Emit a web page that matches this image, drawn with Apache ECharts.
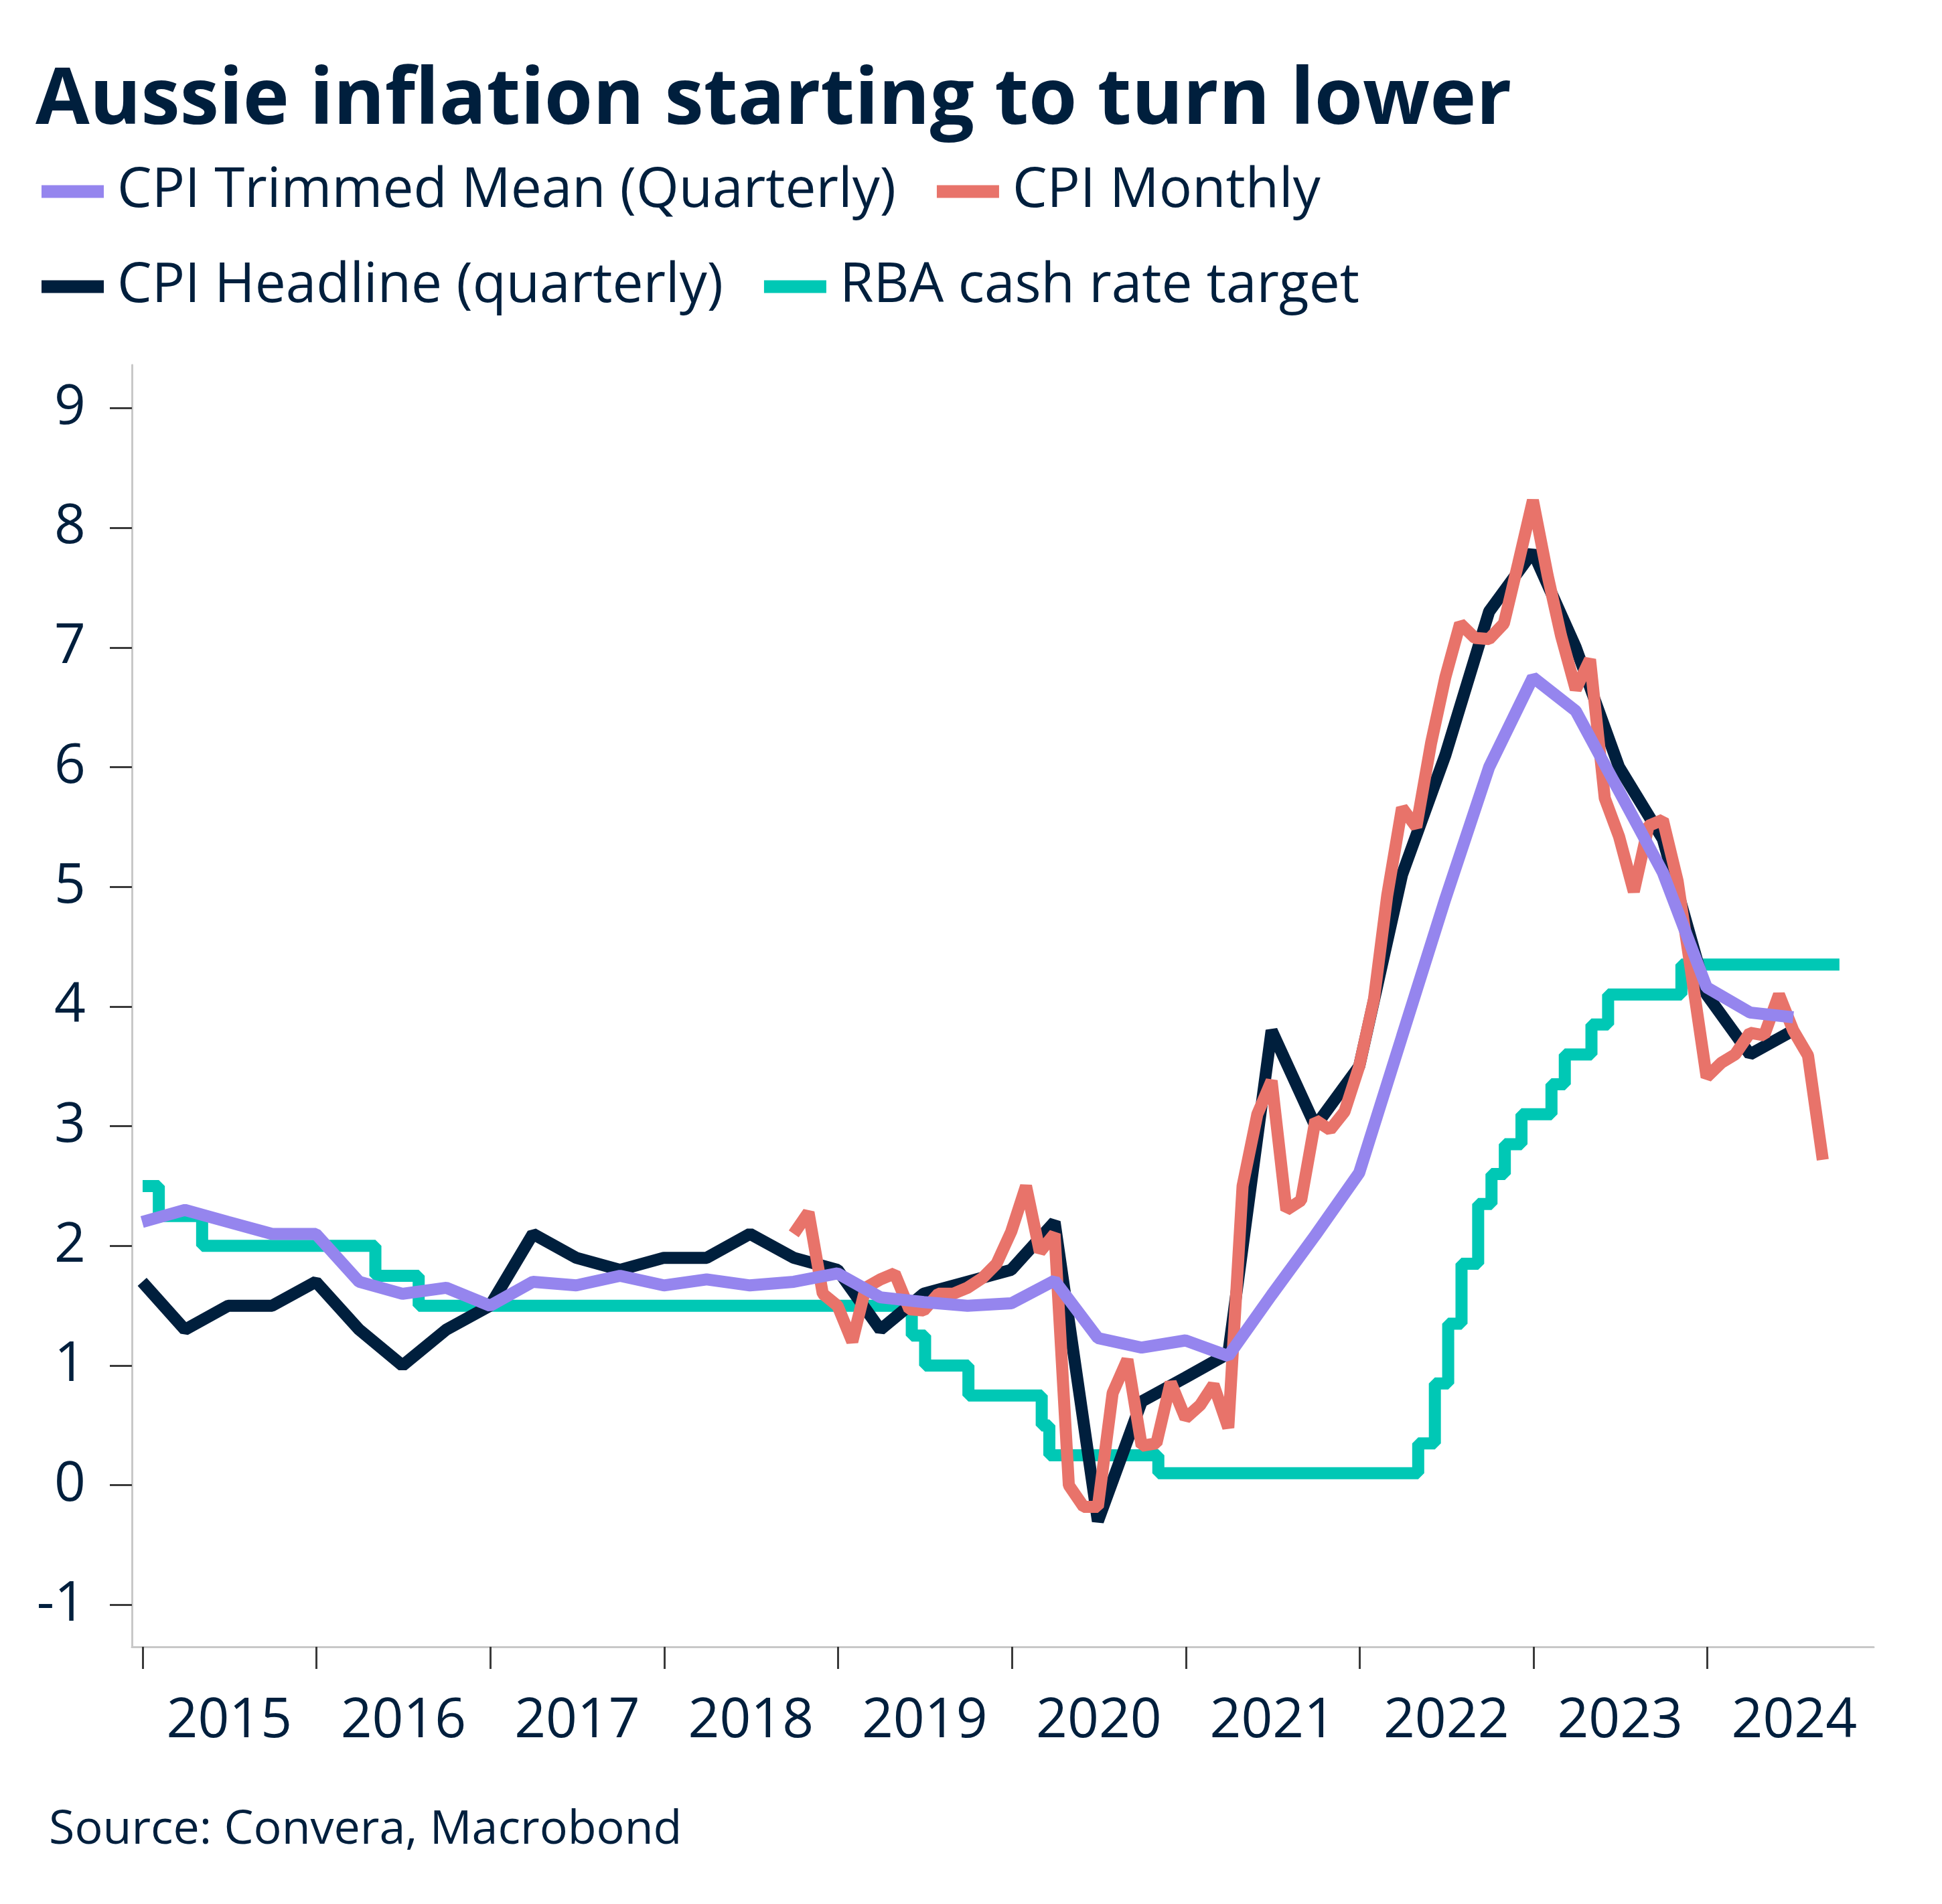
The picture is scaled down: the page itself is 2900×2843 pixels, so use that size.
<!DOCTYPE html>
<html lang="en">
<head>
<meta charset="UTF-8">
<title>Aussie inflation starting to turn lower</title>
<script src="https://cdn.jsdelivr.net/npm/echarts@6/dist/echarts.min.js"></script>
<style>
  html, body { margin: 0; padding: 0; background: #fff; }
  #chart { width: 2900px; height: 2843px; }
</style>
</head>
<body>
<div id="chart"></div>
<script>
// quarterly CPI, year-ended %, plotted at quarter end
var quarters = [
  '2014-12-31',
  '2015-03-31', '2015-06-30', '2015-09-30', '2015-12-31',
  '2016-03-31', '2016-06-30', '2016-09-30', '2016-12-31',
  '2017-03-31', '2017-06-30', '2017-09-30', '2017-12-31',
  '2018-03-31', '2018-06-30', '2018-09-30', '2018-12-31',
  '2019-03-31', '2019-06-30', '2019-09-30', '2019-12-31',
  '2020-03-31', '2020-06-30', '2020-09-30', '2020-12-31',
  '2021-03-31', '2021-06-30', '2021-09-30', '2021-12-31',
  '2022-03-31', '2022-06-30', '2022-09-30', '2022-12-31',
  '2023-03-31', '2023-06-30', '2023-09-30', '2023-12-31',
  '2024-03-31', '2024-06-30'
];
var headline = [
  1.7,
  1.3, 1.5, 1.5, 1.7,
  1.3, 1.0, 1.3, 1.5,
  2.1, 1.9, 1.8, 1.9,
  1.9, 2.1, 1.9, 1.8,
  1.3, 1.6, 1.7, 1.8,
  2.2, -0.3, 0.7, 0.9,
  1.1, 3.8, 3.0, 3.5,
  5.1, 6.1, 7.3, 7.8,
  7.0, 6.0, 5.4, 4.1,
  3.6, 3.8
];
var trimmedMean = [
  2.2,
  2.3, 2.2, 2.1, 2.1,
  1.7, 1.6, 1.65, 1.5,
  1.7, 1.67, 1.75, 1.67,
  1.72, 1.67, 1.7, 1.77,
  1.57, 1.53, 1.5, 1.52,
  1.71, 1.23, 1.15, 1.21,
  1.08, 1.59, 2.09, 2.61,
  3.75, 4.9, 6.0, 6.75,
  6.47, 5.8, 5.12, 4.16,
  3.95, 3.91
];

// monthly CPI indicator, Sep 2018 .. Aug 2024
var monthlyStart = [2018, 9];
var monthly = [
  2.1, 2.28, 1.6, 1.5,
  1.2, 1.65, 1.72, 1.77, 1.47, 1.46, 1.6, 1.6, 1.65, 1.73, 1.85, 2.12,
  2.5, 1.95, 2.1, 0.0, -0.18, -0.18, 0.77, 1.05, 0.33, 0.35, 0.86, 0.56,
  0.67, 0.84, 0.48, 2.5, 3.1, 3.38, 2.3, 2.38, 3.05, 2.97, 3.12, 3.5,
  4.06, 4.93, 5.66, 5.5, 6.2, 6.75, 7.2, 7.08, 7.07, 7.2, 7.7, 8.23,
  7.6, 7.1, 6.65, 6.9, 5.74, 5.42, 4.96, 5.51, 5.56, 5.05, 4.25, 3.41,
  3.53, 3.6, 3.78, 3.76, 4.1, 3.8, 3.59, 2.72
];

// RBA cash rate target: date from which each rate applies
var rbaDates = [
  '2015-01-01', '2015-02-04', '2015-05-06', '2016-05-04', '2016-08-03',
  '2019-06-05', '2019-07-03', '2019-10-02', '2020-03-04', '2020-03-20',
  '2020-11-04', '2022-05-04', '2022-06-08', '2022-07-06', '2022-08-03',
  '2022-09-07', '2022-10-05', '2022-11-02', '2022-12-07', '2023-02-08',
  '2023-03-08', '2023-05-03', '2023-06-07', '2023-11-08', '2024-10-05'
];
var rbaRates = [
  2.5, 2.25, 2.0, 1.75, 1.5,
  1.25, 1.0, 0.75, 0.5, 0.25,
  0.1, 0.35, 0.85, 1.35, 1.85,
  2.35, 2.6, 2.85, 3.1, 3.35,
  3.6, 3.85, 4.1, 4.35, 4.35
];

var years = [2015, 2016, 2017, 2018, 2019, 2020, 2021, 2022, 2023, 2024];
var yTicks = [-1, 0, 1, 2, 3, 4, 5, 6, 7, 8, 9];

var navy = '#001f3d';
var font = 'Open Sans';

function day(s) {
  var p = s.split('-');
  return new Date(+p[0], +p[1] - 1, +p[2]).getTime();
}

var headlineData = quarters.map(function (d, i) { return [day(d), headline[i]]; });
var trimmedData = quarters.map(function (d, i) { return [day(d), trimmedMean[i]]; });
var monthlyData = monthly.map(function (v, i) {
  // last day of the month
  return [new Date(monthlyStart[0], monthlyStart[1] + i, 0).getTime(), v];
});
var rbaData = rbaDates.map(function (d, i) { return [day(d), rbaRates[i]]; });

// x axis is a plain value axis in milliseconds: ticks on 1 Jan, year labels mid-year
var yearStarts = years.map(function (y) { return new Date(y, 0, 1).getTime(); });
var yearMids = years.map(function (y) { return new Date(y, 6, 2).getTime(); });

var legendText = { fontFamily: font, fontSize: 82, color: navy, lineHeight: 82, padding: [18, 0, 0, 15] };

var chart = echarts.init(document.getElementById('chart'), null, { renderer: 'canvas' });

chart.setOption({
  animation: false,
  backgroundColor: '#fff',
  textStyle: { fontFamily: font, color: navy },
  title: [{
    text: 'Aussie inflation starting to turn lower',
    left: 48,
    top: 88,
    textStyle: { fontFamily: font, fontWeight: 'bold', fontSize: 117, color: navy }
  }, {
    text: 'Source: Convera, Macrobond',
    left: 68,
    top: 2693,
    textStyle: { fontFamily: font, fontWeight: 'normal', fontSize: 70, color: navy }
  }],
  legend: [{
    data: ['CPI Trimmed Mean (Quarterly)', 'CPI Monthly'],
    left: 57,
    top: 231,
    icon: 'rect',
    itemWidth: 93,
    itemHeight: 19,
    itemGap: 61,
    selectedMode: false,
    textStyle: legendText
  }, {
    data: ['CPI Headline (quarterly)', 'RBA cash rate target'],
    left: 57,
    top: 373,
    icon: 'rect',
    itemWidth: 93,
    itemHeight: 19,
    itemGap: 61,
    selectedMode: false,
    textStyle: legendText
  }],
  grid: {
    left: 197,
    right: 102,
    top: 545,
    bottom: 384,
    containLabel: false,
    outerBoundsMode: 'none'
  },
  xAxis: {
    type: 'value',
    min: new Date(2014, 11, 9, 12).getTime(),
    max: new Date(2024, 11, 16).getTime(),
    axisLine: { show: true, onZero: false, lineStyle: { color: '#c8c8c8', width: 3 } },
    axisTick: { show: true, length: 33, customValues: yearStarts, lineStyle: { color: '#3a3a3a', width: 3 } },
    axisLabel: {
      customValues: yearMids,
      margin: 71,
      fontFamily: font,
      fontSize: 82,
      color: navy,
      formatter: function (v) { return String(new Date(v).getFullYear()); }
    },
    splitLine: { show: false }
  },
  yAxis: {
    type: 'value',
    min: -1.35,
    max: 9.36,
    axisLine: { show: true, lineStyle: { color: '#c8c8c8', width: 3 } },
    axisTick: { show: true, length: 33, customValues: yTicks, lineStyle: { color: '#3a3a3a', width: 3 } },
    axisLabel: {
      customValues: yTicks,
      margin: 69,
      fontFamily: font,
      fontSize: 82,
      color: navy
    },
    splitLine: { show: false }
  },
  series: [{
    name: 'RBA cash rate target',
    type: 'line',
    step: 'end',
    data: rbaData,
    color: '#00c8b5',
    symbol: 'none',
    lineStyle: { width: 18 },
    z: 2
  }, {
    name: 'CPI Headline (quarterly)',
    type: 'line',
    data: headlineData,
    color: navy,
    symbol: 'none',
    lineStyle: { width: 18 },
    z: 3
  }, {
    name: 'CPI Monthly',
    type: 'line',
    data: monthlyData,
    color: '#e8736a',
    symbol: 'none',
    lineStyle: { width: 18 },
    z: 4
  }, {
    name: 'CPI Trimmed Mean (Quarterly)',
    type: 'line',
    data: trimmedData,
    color: '#9585ee',
    symbol: 'none',
    lineStyle: { width: 18 },
    z: 5
  }]
});
</script>
</body>
</html>
